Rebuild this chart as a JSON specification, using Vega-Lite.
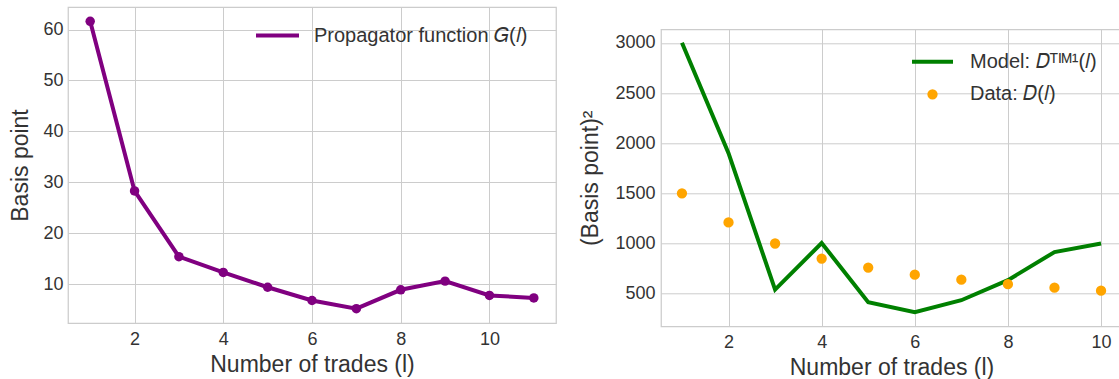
{
  "$schema": "https://vega.github.io/schema/vega-lite/v6.json",
  "background": "white",
  "padding": {"left": 9, "top": 6, "right": 0, "bottom": 0},
  "config": {
    "font": "Liberation Sans",
    "view": {"stroke": "#cccccc", "strokeWidth": 1.25},
    "axis": {
      "domain": false, "ticks": false, "grid": true, "gridColor": "#cccccc", "gridWidth": 1,
      "labelFontSize": 18, "labelColor": "#333333", "labelFont": "Liberation Sans",
      "titleFontSize": 23, "titleFontWeight": "normal", "titleColor": "#333333", "titleFont": "Liberation Sans"
    },
    "legend": {"labelFontSize": 20, "labelColor": "#333333", "labelFont": "Liberation Sans", "labelLimit": 400}
  },
  "spacing": 22,
  "resolve": {
    "scale": {"color": "independent", "fill": "independent", "stroke": "independent", "shape": "independent", "size": "independent"},
    "legend": {"color": "independent", "fill": "independent", "stroke": "independent", "shape": "independent", "size": "independent"}
  },
  "hconcat": [
    {
      "width": 488,
      "height": 316,
      "data": {"values": [
        {"l": 1, "G": 61.6}, {"l": 2, "G": 28.3}, {"l": 3, "G": 15.4}, {"l": 4, "G": 12.3},
        {"l": 5, "G": 9.4}, {"l": 6, "G": 6.8}, {"l": 7, "G": 5.2}, {"l": 8, "G": 8.9},
        {"l": 9, "G": 10.6}, {"l": 10, "G": 7.8}, {"l": 11, "G": 7.3}
      ]},
      "mark": {"type": "line", "strokeWidth": 4, "point": {"filled": true, "size": 90, "opacity": 1}},
      "encoding": {
        "x": {"field": "l", "type": "quantitative",
          "scale": {"domain": [0.5, 11.5], "nice": false, "zero": false},
          "axis": {"values": [2, 4, 6, 8, 10], "title": "Number of trades (l)", "labelPadding": 7, "titlePadding": 5}},
        "y": {"field": "G", "type": "quantitative",
          "scale": {"domain": [2.38, 64.42], "nice": false, "zero": false},
          "axis": {"values": [10, 20, 30, 40, 50, 60], "title": "Basis point", "labelPadding": 5, "titlePadding": 10}},
        "color": {"datum": "Propagator function 𝐺(𝑙)", "type": "nominal",
          "scale": {"domain": ["Propagator function 𝐺(𝑙)"], "range": ["#800080"]},
          "legend": {"title": null, "orient": "none", "legendX": 186, "legendY": 5, "labelFontSize": 20, "symbolType": "stroke", "symbolSize": 1849, "symbolStrokeWidth": 4, "labelOffset": 13}}
      }
    },
    {
      "spacing": 20.3,
      "resolve": {
        "scale": {"fill": "independent", "stroke": "independent", "shape": "independent", "size": "independent"},
        "legend": {"fill": "independent", "stroke": "independent", "shape": "independent", "size": "independent"}
      },
      "vconcat": [
        {
          "width": 461,
          "height": 1,
          "view": {"stroke": null},
          "data": {"values": []},
          "mark": "point",
          "encoding": {}
        },
        {
          "width": 461,
          "height": 297,
          "data": {"values": [
            {"l": 1, "model": 3000, "obs": 1500}, {"l": 2, "model": 1900, "obs": 1210},
            {"l": 3, "model": 540, "obs": 1000}, {"l": 4, "model": 1005, "obs": 850},
            {"l": 5, "model": 415, "obs": 760}, {"l": 6, "model": 315, "obs": 690},
            {"l": 7, "model": 435, "obs": 640}, {"l": 8, "model": 635, "obs": 595},
            {"l": 9, "model": 915, "obs": 560}, {"l": 10, "model": 1000, "obs": 530}
          ]},
          "encoding": {
            "x": {"field": "l", "type": "quantitative",
              "scale": {"domain": [0.55, 10.45], "nice": false, "zero": false},
              "axis": {"values": [2, 4, 6, 8, 10], "title": "Number of trades (l)", "labelPadding": 7, "titlePadding": 5}}
          },
          "layer": [
            {
              "mark": {"type": "line", "color": "#008000", "strokeWidth": 4},
              "encoding": {
                "y": {"field": "model", "type": "quantitative",
                  "scale": {"domain": [175, 3135], "nice": false, "zero": false},
                  "axis": {"values": [500, 1000, 1500, 2000, 2500, 3000], "format": "d", "title": "(Basis point)²", "labelPadding": 6, "titlePadding": 12}}
              }
            },
            {
              "mark": {"type": "point", "filled": true, "opacity": 1, "strokeWidth": 4},
              "encoding": {
                "y": {"field": "obs", "type": "quantitative"},
                "fill": {"datum": "Data: 𝐷(𝑙)", "type": "nominal",
                  "scale": {"domain": ["Model: 𝐷ᵀᴵᴹ¹(𝑙)", "Data: 𝐷(𝑙)"], "range": ["#008000", "#ffa500"]},
                  "legend": {"title": null, "orient": "none", "legendX": 249, "legendY": 10, "rowPadding": 10, "symbolStrokeColor": "#008000", "symbolStrokeWidth": 4, "labelOffset": 15}},
                "stroke": {"datum": "Data: 𝐷(𝑙)", "type": "nominal",
                  "scale": {"domain": ["Model: 𝐷ᵀᴵᴹ¹(𝑙)", "Data: 𝐷(𝑙)"], "range": ["#008000", "#ffa500"]},
                  "legend": {"title": null, "orient": "none", "legendX": 249, "legendY": 10, "rowPadding": 10, "symbolStrokeColor": "#008000", "symbolStrokeWidth": 4, "labelOffset": 15}},
                "shape": {"datum": "Data: 𝐷(𝑙)", "type": "nominal",
                  "scale": {"domain": ["Model: 𝐷ᵀᴵᴹ¹(𝑙)", "Data: 𝐷(𝑙)"], "range": ["stroke", "circle"]},
                  "legend": {"title": null, "orient": "none", "legendX": 249, "legendY": 10, "rowPadding": 10, "symbolStrokeColor": "#008000", "symbolStrokeWidth": 4, "labelOffset": 15}},
                "size": {"datum": "Data: 𝐷(𝑙)", "type": "ordinal",
                  "scale": {"domain": ["Model: 𝐷ᵀᴵᴹ¹(𝑙)", "Data: 𝐷(𝑙)"], "range": [1681, 40]},
                  "legend": {"title": null, "orient": "none", "legendX": 249, "legendY": 10, "rowPadding": 10, "symbolStrokeColor": "#008000", "symbolStrokeWidth": 4, "labelOffset": 15}}
              }
            }
          ]
        }
      ]
    }
  ]
}
